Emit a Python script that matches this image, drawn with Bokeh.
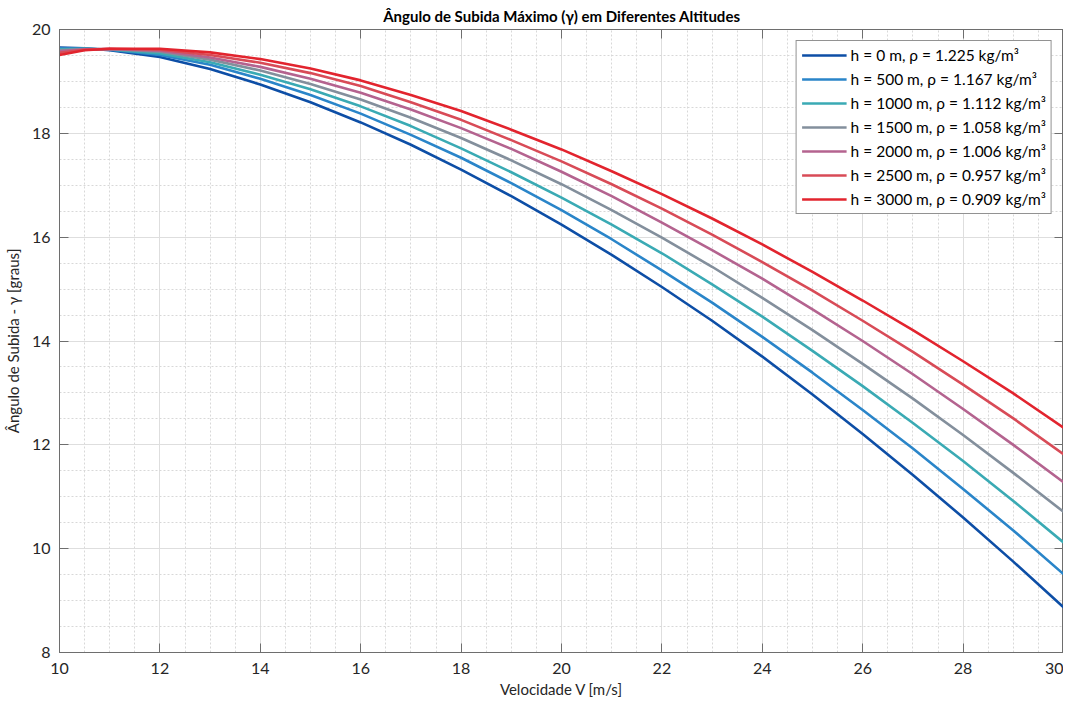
from bokeh.plotting import figure
from bokeh.models import (SingleIntervalTicker, LinearAxis, Range1d,
                          Legend, LegendItem, CustomJSTickFormatter)
from bokeh.embed import file_html
from bokeh.resources import INLINE

# ---- data ----
V = [10, 10.5, 11, 12, 13, 14, 15, 16, 17, 18, 19, 20, 21, 22, 23, 24, 25, 26, 27, 28, 29, 30]

g_0 = [19.65, 19.64, 19.60, 19.47, 19.24, 18.94, 18.60, 18.21, 17.78, 17.30, 16.79,
       16.24, 15.66, 15.04, 14.39, 13.70, 12.97, 12.21, 11.42, 10.60, 9.75, 8.87]
g_500 = [19.64, 19.635, 19.61, 19.51, 19.32, 19.05, 18.74, 18.38, 17.97, 17.53, 17.04,
         16.52, 15.96, 15.36, 14.74, 14.08, 13.39, 12.67, 11.93, 11.15, 10.35, 9.51]
g_1000 = [19.62, 19.63, 19.615, 19.54, 19.37, 19.13, 18.85, 18.52, 18.14, 17.71, 17.25,
          16.76, 16.24, 15.69, 15.09, 14.47, 13.81, 13.13, 12.42, 11.69, 10.92, 10.12]
g_1500 = [19.60, 19.625, 19.62, 19.57, 19.42, 19.21, 18.95, 18.65, 18.30, 17.91, 17.48,
          17.02, 16.52, 15.99, 15.43, 14.83, 14.21, 13.56, 12.89, 12.19, 11.46, 10.71]
g_2000 = [19.58, 19.62, 19.625, 19.59, 19.46, 19.28, 19.05, 18.78, 18.46, 18.10, 17.70,
          17.26, 16.79, 16.28, 15.75, 15.20, 14.61, 14.00, 13.36, 12.69, 12.00, 11.28]
g_2500 = [19.55, 19.61, 19.63, 19.61, 19.51, 19.36, 19.16, 18.91, 18.60, 18.26, 17.87,
          17.46, 17.02, 16.55, 16.05, 15.52, 14.97, 14.39, 13.79, 13.16, 12.51, 11.82]
g_3000 = [19.51, 19.60, 19.63, 19.63, 19.56, 19.43, 19.25, 19.02, 18.74, 18.43, 18.07,
          17.69, 17.27, 16.83, 16.36, 15.86, 15.33, 14.78, 14.21, 13.61, 12.99, 12.33]

series = [g_0, g_500, g_1000, g_1500, g_2000, g_2500, g_3000]
labels = ["h = 0 m, ρ = 1.225 kg/m³",
          "h = 500 m, ρ = 1.167 kg/m³",
          "h = 1000 m, ρ = 1.112 kg/m³",
          "h = 1500 m, ρ = 1.058 kg/m³",
          "h = 2000 m, ρ = 1.006 kg/m³",
          "h = 2500 m, ρ = 0.957 kg/m³",
          "h = 3000 m, ρ = 0.909 kg/m³"]
colors = ["#0d4ea6", "#2a85c9", "#3aaab4", "#838f9c", "#b4638f", "#d84b57", "#e2242e"]

FONT = "Lato"
AX = "#6e6e6e"
TXT = "#262626"

p = figure(width=1063, height=702, x_range=Range1d(10, 30), y_range=Range1d(8, 20),
           output_backend="svg", toolbar_location=None,
           min_border_left=54, min_border_right=0, min_border_top=0, min_border_bottom=50,
           x_axis_label="Velocidade V [m/s]", y_axis_label="Ângulo de Subida - γ [graus]",
           title="Ângulo de Subida Máximo (γ) em Diferentes Altitudes")

p.title.align = "center"
p.title.text_font = FONT
p.title.text_font_size = "15px"
p.title.text_font_style = "bold"
p.title.text_color = "black"
p.title.standoff = 9

p.background_fill_color = "white"
p.border_fill_color = "white"
p.outline_line_color = AX

p.xaxis.ticker = SingleIntervalTicker(interval=2, num_minor_ticks=4)
p.yaxis.ticker = SingleIntervalTicker(interval=2, num_minor_ticks=4)

for ax in [p.xaxis[0], p.yaxis[0]]:
    ax.axis_line_color = AX
    ax.major_tick_line_color = AX
    ax.major_tick_in = 9
    ax.major_tick_out = 0
    ax.minor_tick_in = 0
    ax.minor_tick_out = 0
    ax.major_label_text_font = FONT
    ax.major_label_text_font_size = "16px"
    ax.major_label_text_color = TXT
    ax.axis_label_text_font = FONT
    ax.axis_label_text_font_size = "15px"
    ax.axis_label_text_font_style = "normal"
    ax.axis_label_text_color = TXT
p.xaxis.major_label_standoff = 10
p.xaxis.axis_label_standoff = 3
p.yaxis.major_label_standoff = 9
p.yaxis.axis_label_standoff = 7

# box axes (top/right) with inward ticks and no labels
blank = CustomJSTickFormatter(code="return ''")
top = LinearAxis(ticker=SingleIntervalTicker(interval=2, num_minor_ticks=4), formatter=blank)
right = LinearAxis(ticker=SingleIntervalTicker(interval=2, num_minor_ticks=4), formatter=blank)
for ax in [top, right]:
    ax.axis_line_color = AX
    ax.major_tick_line_color = AX
    ax.major_tick_in = 9
    ax.major_tick_out = 0
    ax.minor_tick_in = 0
    ax.minor_tick_out = 0
    ax.major_label_standoff = 0
    ax.axis_label_standoff = 0
    ax.major_label_text_font_size = "1px"
p.add_layout(top, "above")
p.add_layout(right, "right")

for g in [p.xgrid[0], p.ygrid[0]]:
    g.grid_line_color = "#dedede"
    g.grid_line_width = 1
    g.minor_grid_line_color = "#d8d8d8"
    g.minor_grid_line_dash = "2 2"
    g.minor_grid_line_width = 1

items = []
for s, lab, c in zip(series, labels, colors):
    r = p.line(V, s, line_color=c, line_width=2.6)
    items.append(LegendItem(label=lab, renderers=[r]))

legend = Legend(items=items, location="top_right")
legend.margin = 11
legend.padding = 5
legend.spacing = 6
legend.glyph_height = 18
legend.glyph_width = 45
legend.label_height = 18
legend.label_standoff = 4
legend.label_text_font = FONT
legend.label_text_font_size = "15.5px"
legend.label_text_color = "black"
legend.border_line_color = "#262626"
legend.border_line_width = 1
legend.background_fill_color = "white"
legend.background_fill_alpha = 1
p.add_layout(legend)

open("out.html", "w").write(file_html(p, INLINE))
